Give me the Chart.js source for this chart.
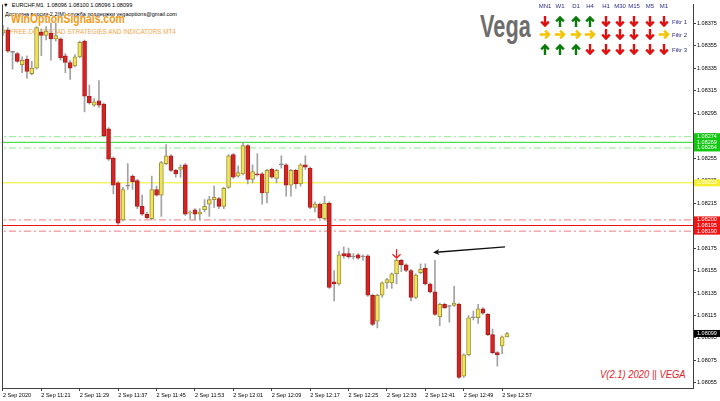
<!DOCTYPE html>
<html>
<head>
<meta charset="utf-8">
<script src="https://cdn.jsdelivr.net/npm/chart.js@4.4.0/dist/chart.umd.min.js"></script>
<style>
html, body { margin: 0; padding: 0; background: #fff; }
#wrap { position: relative; width: 720px; height: 401px; overflow: hidden; font-family: "Liberation Sans", Arial, sans-serif; }
#chart { position: absolute; left: 0; top: 0; z-index: 2; }
.txt { position: absolute; white-space: nowrap; z-index: 1; line-height: 1; transform-origin: left top; }
.sig { position: absolute; z-index: 3; }
</style>
</head>
<body>
<div id="wrap">
  <div class="txt" style="left:3px;top:3px;font-size:5.6px;color:#000;">&#9660;&nbsp;&nbsp;EURCHF,M1&nbsp;&nbsp;1.08096 1.08100 1.08096 1.08099</div>
  <div class="txt" style="left:5px;top:12px;font-size:5.5px;color:#000;">Доступна версия 2.2(M) служба поддержки vegaoptions@gmail.com</div>
  <div class="txt" style="left:11px;top:12px;font-size:13px;font-weight:bold;color:#f39a14;text-shadow:0 0 1px #fff;transform:scaleX(0.8);">WinOptionSignals.com</div>
  <div class="txt" style="left:10px;top:29px;font-size:6.3px;color:#f2a54a;">FREE DOWNLOAD STRATEGIES AND INDICATORS MT4</div>
  <div class="txt" style="left:480px;top:10px;font-size:32px;font-weight:bold;color:#6d6d6d;transform:scaleX(0.68);">Vega</div>
  <div class="txt" style="left:600px;top:369px;font-size:11.5px;font-style:italic;color:#e4222a;transform:scaleX(0.82);">V(2.1) 2020 || VEGA</div>
  <div id="table"></div>
  <canvas id="chart" width="720" height="401"></canvas>
</div>
<script>
// EURCHF M1 candles, 2 Sep 2020 11:13 .. 12:58
const opens = [1.08366,1.08369,1.08349,1.08348,1.08338,1.08343,1.08330,1.08335,1.08367,1.08364,
  1.08366,1.08361,1.08361,1.08346,1.08340,1.08337,1.08345,1.08359,1.08310,1.08302,
  1.08306,1.08303,1.08281,1.08255,1.08233,1.08200,1.08230,1.08239,1.08235,1.08212,
  1.08205,1.08201,1.08227,1.08222,1.08250,1.08257,1.08244,1.08245,1.08249,1.08206,
  1.08209,1.08205,1.08209,1.08214,1.08218,1.08219,1.08212,1.08229,1.08258,1.08239,
  1.08241,1.08266,1.08236,1.08241,1.08241,1.08224,1.08245,1.08237,1.08249,1.08249,
  1.08231,1.08244,1.08232,1.08249,1.08246,1.08211,1.08214,1.08201,1.08215,1.08145,
  1.08143,1.08170,1.08170,1.08167,1.08169,1.08167,1.08168,1.08133,1.08110,1.08133,
  1.08144,1.08144,1.08152,1.08164,1.08160,1.08155,1.08131,1.08153,1.08157,1.08143,
  1.08136,1.08114,1.08125,1.08123,1.08124,1.08125,1.08061,1.08080,1.08113,1.08113,
  1.08121,1.08116,1.08098,1.08082,1.08088,1.08096];
const highs = [1.08373,1.08371,1.08350,1.08349,1.08345,1.08346,1.08341,1.08372,1.08370,1.08372,
  1.08375,1.08375,1.08362,1.08348,1.08342,1.08347,1.08359,1.08360,1.08320,1.08308,
  1.08324,1.08304,1.08282,1.08256,1.08234,1.08229,1.08250,1.08240,1.08236,1.08222,
  1.08207,1.08239,1.08230,1.08252,1.08267,1.08258,1.08245,1.08249,1.08250,1.08208,
  1.08210,1.08210,1.08218,1.08221,1.08230,1.08220,1.08229,1.08258,1.08259,1.08248,
  1.08269,1.08267,1.08249,1.08259,1.08242,1.08245,1.08246,1.08245,1.08257,1.08250,
  1.08245,1.08245,1.08250,1.08257,1.08247,1.08216,1.08215,1.08221,1.08216,1.08155,
  1.08172,1.08176,1.08175,1.08170,1.08170,1.08169,1.08169,1.08134,1.08134,1.08145,
  1.08148,1.08153,1.08165,1.08165,1.08161,1.08156,1.08152,1.08161,1.08161,1.08144,
  1.08164,1.08126,1.08126,1.08124,1.08141,1.08126,1.08081,1.08115,1.08119,1.08125,
  1.08122,1.08117,1.08103,1.08083,1.08097,1.08100];
const lows = [1.08364,1.08349,1.08334,1.08340,1.08331,1.08326,1.08329,1.08334,1.08346,1.08360,
  1.08342,1.08359,1.08342,1.08331,1.08325,1.08336,1.08344,1.08296,1.08303,1.08301,
  1.08300,1.08274,1.08253,1.08223,1.08196,1.08199,1.08227,1.08227,1.08210,1.08204,
  1.08201,1.08200,1.08221,1.08203,1.08249,1.08243,1.08238,1.08238,1.08204,1.08201,
  1.08200,1.08200,1.08207,1.08203,1.08211,1.08210,1.08210,1.08228,1.08237,1.08238,
  1.08240,1.08232,1.08233,1.08239,1.08214,1.08215,1.08237,1.08233,1.08246,1.08221,
  1.08221,1.08228,1.08230,1.08245,1.08210,1.08207,1.08201,1.08200,1.08139,1.08128,
  1.08142,1.08166,1.08166,1.08165,1.08165,1.08164,1.08132,1.08106,1.08104,1.08131,
  1.08139,1.08139,1.08143,1.08154,1.08154,1.08128,1.08130,1.08152,1.08142,1.08135,
  1.08115,1.08106,1.08121,1.08109,1.08123,1.08059,1.08060,1.08079,1.08111,1.08108,
  1.08116,1.08097,1.08081,1.08070,1.08081,1.08096];
const closes = [1.08369,1.08350,1.08349,1.08341,1.08342,1.08332,1.08335,1.08371,1.08364,1.08368,
  1.08361,1.08364,1.08344,1.08340,1.08335,1.08345,1.08358,1.08310,1.08304,1.08305,
  1.08302,1.08275,1.08254,1.08231,1.08197,1.08227,1.08230,1.08234,1.08212,1.08205,
  1.08202,1.08227,1.08222,1.08251,1.08257,1.08244,1.08241,1.08247,1.08205,1.08207,
  1.08205,1.08207,1.08212,1.08218,1.08220,1.08212,1.08228,1.08257,1.08238,1.08242,
  1.08266,1.08236,1.08243,1.08240,1.08224,1.08244,1.08238,1.08244,1.08249,1.08231,
  1.08244,1.08232,1.08249,1.08247,1.08211,1.08214,1.08202,1.08215,1.08140,1.08143,
  1.08169,1.08168,1.08167,1.08167,1.08166,1.08167,1.08133,1.08107,1.08133,1.08144,
  1.08147,1.08152,1.08164,1.08160,1.08155,1.08131,1.08151,1.08156,1.08143,1.08136,
  1.08116,1.08125,1.08122,1.08123,1.08126,1.08060,1.08080,1.08113,1.08113,1.08121,
  1.08117,1.08098,1.08082,1.08080,1.08096,1.08099];

const xTickLabels = ["2 Sep 2020", "2 Sep 11:21", "2 Sep 11:29", "2 Sep 11:37", "2 Sep 11:45",
  "2 Sep 11:53", "2 Sep 12:01", "2 Sep 12:09", "2 Sep 12:17", "2 Sep 12:25",
  "2 Sep 12:33", "2 Sep 12:41", "2 Sep 12:49", "2 Sep 12:57"];
const yTicks = [1.08055, 1.08075, 1.08095, 1.08115, 1.08135, 1.08155, 1.08175, 1.08195, 1.08215,
  1.08235, 1.08255, 1.08275, 1.08295, 1.08315, 1.08335, 1.08355, 1.08375];

// horizontal levels: green zone, yellow line, red zone
const levelValues = [1.08274, 1.08269, 1.08264, 1.08233, 1.08200, 1.08195, 1.08190];
const levelKinds = ["green-dd", "green", "green-dd", "yellow", "red-dd", "red", "red-dd"];

// signal table
const tfNames = ["MN1", "W1", "D1", "H4", "H1", "M30", "M15", "M5", "M1"];
const filtr1 = ["d", "u", "u", "u", "d", "d", "d", "d", "d"];
const filtr2 = ["r", "r", "r", "r", "d", "d", "d", "d", "r"];
const filtr3 = ["u", "u", "u", "d", "d", "d", "d", "d", "d"];

// annotations: [candle index, price]
const arrowFrom = [104.6, 1.08176];
const arrowTo = [89.6, 1.08171];
const signalBar = 82;

const kindStyle = {
  "green": { color: "#1fdc1f", dash: [] },
  "green-dd": { color: "#8fe88f", dash: [7, 3, 2, 3] },
  "yellow": { color: "#f2ee1a", dash: [] },
  "red": { color: "#ee1010", dash: [] },
  "red-dd": { color: "#f07a7a", dash: [7, 3, 2, 3] }
};
const labelBg = { "green": "#10c810", "green-dd": "#10c810", "yellow": "#f6ee2a", "red": "#f01414", "red-dd": "#f01414" };

// build the signal table
const colX = [545, 560, 576, 590, 606, 620, 634, 650, 664];
const rowY = [16, 29, 44];
const sigColor = { d: "#e01010", u: "#0a7a0a", r: "#f4c400" };
const sigRot = { d: 0, u: 180, r: -90 };
let html = "";
tfNames.forEach((n, i) => {
  html += `<div class="sig" style="left:${colX[i] - 10}px;width:20px;text-align:center;top:3px;font-size:6px;color:#2a2a8a;">${n}</div>`;
});
[filtr1, filtr2, filtr3].forEach((row, r) => {
  row.forEach((s, i) => {
    html += `<svg class="sig" width="10" height="11" viewBox="0 0 10 11" style="left:${colX[i] - 5}px;top:${rowY[r]}px;transform:rotate(${sigRot[s]}deg)">` +
      `<path d="M5 0V9.6M1.2 5.6L5 9.6L8.8 5.6" fill="none" stroke="${sigColor[s]}" stroke-width="2.4"/></svg>`;
  });
  html += `<div class="sig" style="left:672px;top:${rowY[r] + 3}px;font-size:6px;color:#2a2a8a;">Filtr ${r + 1}</div>`;
});
document.getElementById("table").innerHTML = html;

const bull = (i) => closes[i] > opens[i];
const doji = (i) => closes[i] === opens[i];

const marks = {
  id: "marks",
  afterDraw(chart) {
    const { ctx, chartArea: a, scales: { x, y } } = chart;
    ctx.save();
    // left frame line
    ctx.strokeStyle = "#404040";
    ctx.lineWidth = 1;
    ctx.beginPath();
    ctx.moveTo(a.left + 0.5, a.top);
    ctx.lineTo(a.left + 0.5, a.bottom);
    ctx.stroke();

    // black arrow
    const x0 = x.getPixelForValue(arrowFrom[0]), y0 = y.getPixelForValue(arrowFrom[1]);
    const x1 = x.getPixelForValue(arrowTo[0]), y1 = y.getPixelForValue(arrowTo[1]);
    const ang = Math.atan2(y1 - y0, x1 - x0);
    ctx.strokeStyle = "#111";
    ctx.fillStyle = "#111";
    ctx.lineWidth = 1.4;
    ctx.beginPath();
    ctx.moveTo(x0, y0);
    ctx.lineTo(x1 + 3 * Math.cos(ang + Math.PI), y1 + 3 * Math.sin(ang + Math.PI));
    ctx.stroke();
    ctx.beginPath();
    ctx.moveTo(x1, y1);
    ctx.lineTo(x1 - 7 * Math.cos(ang - 0.45), y1 - 7 * Math.sin(ang - 0.45));
    ctx.lineTo(x1 - 4.5 * Math.cos(ang), y1 - 4.5 * Math.sin(ang));
    ctx.lineTo(x1 - 7 * Math.cos(ang + 0.45), y1 - 7 * Math.sin(ang + 0.45));
    ctx.closePath();
    ctx.fill();

    // red sell signal above the bar
    const sx = x.getPixelForValue(signalBar);
    const tip = y.getPixelForValue(highs[signalBar]) - 1;
    ctx.strokeStyle = "#f01818";
    ctx.lineWidth = 1.2;
    ctx.beginPath();
    ctx.moveTo(sx, tip - 9);
    ctx.lineTo(sx, tip);
    ctx.moveTo(sx - 4, tip - 4);
    ctx.lineTo(sx, tip);
    ctx.lineTo(sx + 4, tip - 4);
    ctx.stroke();

    // price labels on the axis
    ctx.font = "5.5px 'Liberation Sans', Arial, sans-serif";
    ctx.textBaseline = "middle";
    ctx.textAlign = "left";
    const tag = (v, bg) => {
      const py = y.getPixelForValue(v);
      ctx.fillStyle = bg;
      ctx.fillRect(a.right + 1, py - 3.5, 26, 7);
      ctx.fillStyle = "#fff";
      ctx.fillText(v.toFixed(5), a.right + 4, py);
    };
    levelValues.forEach((v, i) => tag(v, labelBg[levelKinds[i]]));
    tag(closes[closes.length - 1], "#000");
    ctx.restore();
  }
};

const levelSets = levelValues.map((v, i) => ({
  type: "line",
  data: [{ x: -5, y: v }, { x: 200, y: v }],
  borderColor: kindStyle[levelKinds[i]].color,
  borderDash: kindStyle[levelKinds[i]].dash,
  borderWidth: 1,
  pointRadius: 0,
  order: 3
}));

new Chart(document.getElementById("chart"), {
  type: "bar",
  data: {
    datasets: [
      {
        label: "wick",
        data: opens.map((o, i) => ({ x: i, y: [lows[i], highs[i]] })),
        backgroundColor: "#a2a2a2",
        barThickness: 1,
        grouped: false,
        order: 2
      },
      {
        label: "body",
        data: opens.map((o, i) => ({ x: i, y: [o, closes[i]] })),
        backgroundColor: opens.map((o, i) => doji(i) ? "#8c8c8c" : bull(i) ? "#f1e45a" : "#d32424"),
        borderColor: opens.map((o, i) => doji(i) ? "#8c8c8c" : bull(i) ? "#9a943a" : "#b01a1a"),
        borderWidth: 1,
        borderSkipped: false,
        barThickness: 4,
        minBarLength: 1,
        grouped: false,
        order: 1
      },
      ...levelSets
    ]
  },
  options: {
    responsive: false,
    animation: false,
    layout: { padding: { left: 2, top: 1, right: 0, bottom: 0 } },
    plugins: { legend: { display: false }, tooltip: { enabled: false } },
    scales: {
      x: {
        type: "linear",
        min: -0.2,
        max: 143.76,
        offset: false,
        afterBuildTicks: (s) => { s.ticks = xTickLabels.map((_, i) => ({ value: i * 8 })); },
        afterFit: (s) => { s.height = 13; },
        grid: { drawOnChartArea: false, offset: false, tickLength: 3, color: "#404040" },
        border: { display: true, color: "#404040" },
        ticks: {
          autoSkip: false,
          maxRotation: 0,
          align: "start",
          padding: 1,
          color: "#000",
          font: { size: 5.5, family: "'Liberation Sans', Arial, sans-serif" },
          callback: (v, i) => xTickLabels[i]
        }
      },
      y: {
        position: "right",
        min: 1.080505,
        max: 1.0839175,
        afterBuildTicks: (s) => { s.ticks = yTicks.map((v) => ({ value: v })); },
        afterFit: (s) => { s.width = 27; },
        grid: { drawOnChartArea: false, tickLength: 3, color: "#404040" },
        border: { display: true, color: "#404040" },
        ticks: {
          padding: 1,
          color: "#000",
          font: { size: 5.5, family: "'Liberation Sans', Arial, sans-serif" },
          callback: (v) => v.toFixed(5)
        }
      }
    }
  },
  plugins: [marks]
});
</script>
</body>
</html>
